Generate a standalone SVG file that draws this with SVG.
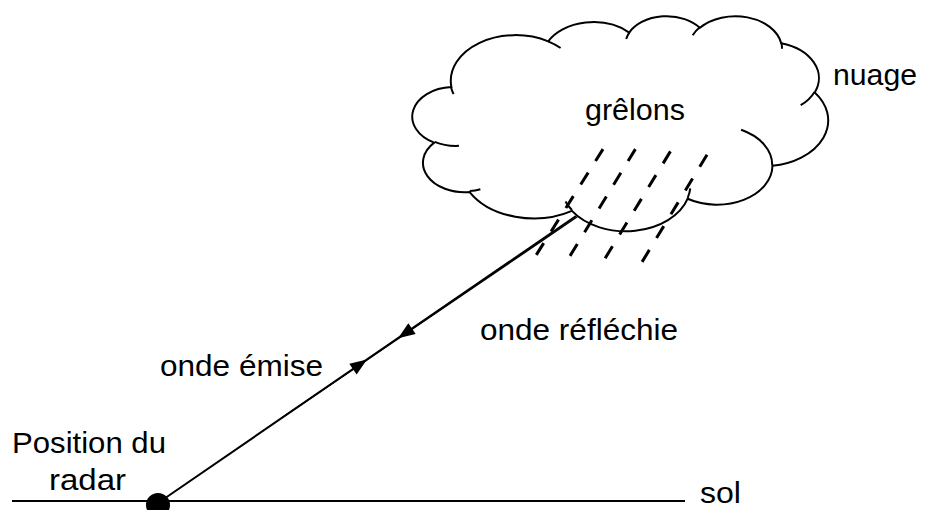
<svg xmlns="http://www.w3.org/2000/svg" width="925" height="510" viewBox="0 0 925 510">
  <style>
    .lbl { font-family: "Liberation Sans", Arial, sans-serif; font-size: 29px; fill: #000; }
    .ln { stroke: #000; stroke-width: 2; fill: none; }
    .rain { stroke: #000; stroke-width: 3; stroke-dasharray: 14 13.8; fill: none; }
  </style>
  <defs>
    <path id="arrowhead" d="M0,0 L-17,-6.5 L-17,6.5 Z" fill="#000"/>
  </defs>

  <rect width="925" height="510" fill="#fff"/>

  <!-- cloud -->
  <g id="nuage">
    <path class="ln" d="M451.38,87.02
      A64.72,45.74 0 0 1 548.21,41.39
      A51.11,36.17 0 0 1 629.20,32.58
      A41.83,29.59 0 0 1 699.90,27.85
      A46.55,32.82 0 0 1 781.22,43.25
      A51.11,36.20 0 0 1 814.76,92.44
      A64.93,45.89 0 0 1 772.46,165.82
      A55.44,39.15 0 0 1 687.66,198.72
      A64.71,45.86 0 0 1 571.94,210.91
      A73.98,52.47 0 0 1 469.63,192.03
      A41.78,29.45 0 0 1 434.25,142.65
      A41.64,29.59 0 0 1 451.38,87.02 Z" style="fill:#fff"/>
    <!-- inner lobe tails -->
    <path class="ln" d="M458.97,145.78 A41.64,29.59 0 0 1 434.70,141.81
      M480.39,189.19 A41.78,29.45 0 0 1 469.77,191.09
      M571.92,210.05 A64.71,45.86 0 0 1 565.51,201.39
      M690.26,188.45 A64.71,45.86 0 0 1 687.70,197.95
      M741.07,129.74 A55.44,39.15 0 0 1 772.23,165.25
      M814.56,91.92 A51.11,36.20 0 0 1 800.69,105.23
      M781.27,42.50 A46.55,32.82 0 0 1 782.00,48.79
      M692.66,35.17 A46.55,32.82 0 0 1 699.77,27.15
      M626.19,38.99 A41.83,29.59 0 0 1 629.63,32.07
      M548.17,41.34 A64.72,45.74 0 0 1 560.62,48.05
      M453.55,94.08 A64.72,45.74 0 0 1 450.92,86.99"/>
    <text class="lbl" x="833" y="85" textLength="84" lengthAdjust="spacingAndGlyphs">nuage</text>
  </g>

  <!-- hailstones -->
  <g id="grelons">
    <line class="rain" x1="603" y1="149.1" x2="536.3" y2="254.9"/>
    <line class="rain" x1="635.4" y1="149.1" x2="569.6" y2="256.6"/>
    <line class="rain" x1="670.4" y1="151.4" x2="604.6" y2="259.2"/>
    <line class="rain" x1="707" y1="154.8" x2="641.3" y2="263.2"/>
    <text class="lbl" x="585" y="120" textLength="100" lengthAdjust="spacingAndGlyphs">grêlons</text>
  </g>

  <!-- ground -->
  <g id="sol">
    <line class="ln" x1="12" y1="501" x2="685" y2="501"/>
    <text class="lbl" x="700" y="503" textLength="41" lengthAdjust="spacingAndGlyphs">sol</text>
  </g>

  <!-- radar -->
  <g id="radar">
    <circle cx="158" cy="505" r="12" fill="#000"/>
    <text class="lbl" x="12" y="453" textLength="154" lengthAdjust="spacingAndGlyphs">Position du</text>
    <text class="lbl" x="49" y="490" textLength="77" lengthAdjust="spacingAndGlyphs">radar</text>
  </g>

  <!-- waves -->
  <g id="connecteurs">
    <line class="ln" x1="158" y1="503" x2="576" y2="216"/>
    <line class="ln" x1="577" y1="217" x2="283" y2="417" style="stroke-width:1.5"/>
    <use href="#arrowhead" transform="translate(367,359.5) rotate(-34.47)"/>
    <use href="#arrowhead" transform="translate(398,338.2) rotate(145.53)"/>
  </g>

  <g id="labels">
    <text class="lbl" x="480" y="340" textLength="198" lengthAdjust="spacingAndGlyphs">onde réfléchie</text>
    <text class="lbl" x="160" y="376" textLength="163" lengthAdjust="spacingAndGlyphs">onde émise</text>
  </g>
</svg>
